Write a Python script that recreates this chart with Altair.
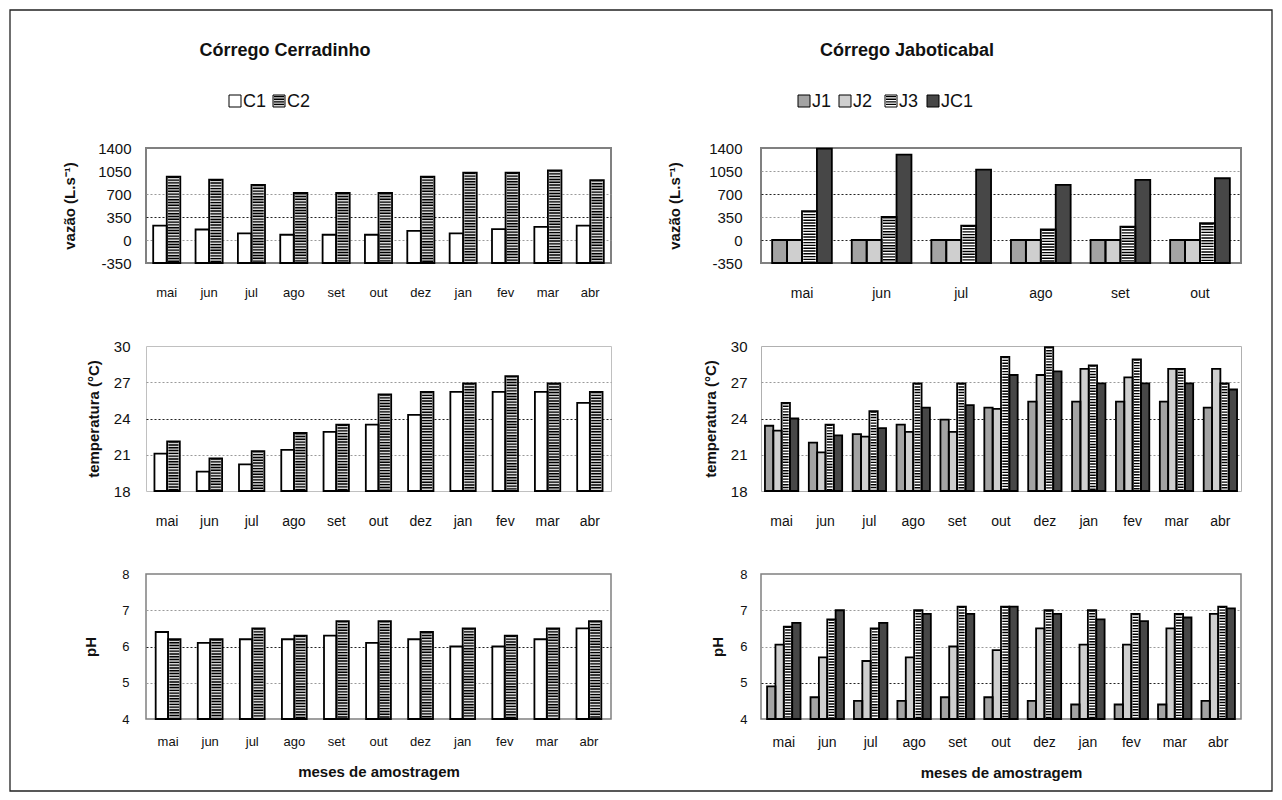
import altair as alt
import pandas as pd

FONT = "Liberation Sans"

# ---------------- data ----------------
months_c = ["mai", "jun", "jul", "ago", "set", "out", "dez", "jan", "fev", "mar", "abr"]
months_jq = ["mai", "jun", "jul", "ago", "set", "out"]
names_c = ["C1", "C2"]
names_j = ["J1", "J2", "J3", "JC1"]

c1_vazao = [220, 160, 100, 80, 80, 80, 140, 100, 165, 200, 220]
c2_vazao = [965, 920, 840, 715, 715, 715, 965, 1025, 1025, 1060, 910]
j1_vazao = [0, 0, 0, 0, 0, 0]
j2_vazao = [0, 0, 0, 0, 0, 0]
j3_vazao = [440, 350, 220, 160, 205, 255]
jc1_vazao = [1390, 1300, 1070, 840, 915, 940]

c1_temp = [21.1, 19.6, 20.2, 21.4, 22.9, 23.5, 24.3, 26.2, 26.2, 26.2, 25.3]
c2_temp = [22.1, 20.7, 21.3, 22.8, 23.5, 26.0, 26.2, 26.9, 27.5, 26.9, 26.2]
j1_temp = [23.4, 22.0, 22.7, 23.5, 23.9, 24.9, 25.4, 25.4, 25.4, 25.4, 24.9]
j2_temp = [23.0, 21.2, 22.5, 22.9, 22.9, 24.8, 27.6, 28.1, 27.4, 28.1, 28.1]
j3_temp = [25.3, 23.5, 24.6, 26.9, 26.9, 29.1, 29.9, 28.4, 28.9, 28.1, 26.9]
jc1_temp = [24.0, 22.6, 23.2, 24.9, 25.1, 27.6, 27.9, 26.9, 26.9, 26.9, 26.4]

c1_ph = [6.4, 6.1, 6.2, 6.2, 6.3, 6.1, 6.2, 6.0, 6.0, 6.2, 6.5]
c2_ph = [6.2, 6.2, 6.5, 6.3, 6.7, 6.7, 6.4, 6.5, 6.3, 6.5, 6.7]
j1_ph = [4.9, 4.6, 4.5, 4.5, 4.6, 4.6, 4.5, 4.4, 4.4, 4.4, 4.5]
j2_ph = [6.05, 5.7, 5.6, 5.7, 6.0, 5.9, 6.5, 6.05, 6.05, 6.5, 6.9]
j3_ph = [6.55, 6.75, 6.5, 7.0, 7.1, 7.1, 7.0, 7.0, 6.9, 6.9, 7.1]
jc1_ph = [6.65, 7.0, 6.65, 6.9, 6.9, 7.1, 6.9, 6.75, 6.7, 6.8, 7.05]

vazao_ticks = [-350, 0, 350, 700, 1050, 1400]
temp_ticks = [18, 21, 24, 27, 30]
ph_ticks = [4, 5, 6, 7, 8]

title_left = "Córrego Cerradinho"
title_right = "Córrego Jaboticabal"
xtitle = "meses de amostragem"

# ---------------- styles / layout ----------------
FILL = {"C1": "#ffffff", "C2": "#d4d4d4", "J1": "#a3a3a3", "J2": "#cfcfcf",
        "J3": "#ffffff", "JC1": "#474747"}
STRIPED = ["C2", "J3"]

WL, WR = 465, 480
H_TOP, H_MID, H_BOT = 115, 145, 145
COL_SPACING, ROW_SPACING = 150, 83
# origin of the top-left plot area on the page
OX, OY = 145, 147


def make_df(months, names, values):
    rows = []
    for name, vals in zip(names, values):
        for m, v in zip(months, vals):
            rows.append({"mes": m, "serie": name, "valor": v})
    return pd.DataFrame(rows)


def panel(months, names, values, ticks, width, height, pi, po, ytitle,
          ylab_size, ylab_pad, ytitle_pad, xlab_size, xlab_pad, dark, hidden,
          view_stroke, view_sw, xtitle=None, extra=()):
    df = make_df(months, names, values)
    n = len(months)
    k = len(names)
    step = width / (n - pi + 2 * po)
    sub = step * (1 - pi) / k
    domain = [ticks[0], ticks[-1]]
    xaxis = alt.Axis(title=xtitle, labelAngle=0, ticks=False, domain=False,
                     labelPadding=xlab_pad, labelFont=FONT, labelFontSize=xlab_size,
                     labelColor="#111", titleFont=FONT, titleFontSize=15,
                     titleFontWeight="bold", titlePadding=16, titleColor="#111")
    xenc = alt.X("mes:N", sort=months,
                 scale=alt.Scale(domain=months, paddingInner=pi, paddingOuter=po),
                 axis=xaxis)
    xoff = alt.XOffset("serie:N", sort=names,
                       scale=alt.Scale(domain=names, paddingInner=0, paddingOuter=0))
    grid_color = {"condition": {"test": f"indexof({dark}, datum.value) >= 0", "value": "#222"},
                  "value": "#9a9a9a"}
    grid_op = {"condition": {"test": f"indexof({hidden}, datum.value) >= 0", "value": 0},
               "value": 1}
    yaxis = alt.Axis(values=ticks, tickCount=len(ticks), title=ytitle, ticks=False,
                     domain=False, labelPadding=ylab_pad, labelFont=FONT,
                     labelFontSize=ylab_size, labelColor="#111", titleFont=FONT,
                     titleFontSize=15, titleFontWeight="bold", titlePadding=ytitle_pad,
                     titleColor="#111", labelOverlap=False, labelFlush=False,
                     labelExpr="'' + datum.value",
                     gridDash=[2, 2], gridColor=grid_color, gridOpacity=grid_op)
    yscale = alt.Scale(domain=domain, nice=False, zero=False)
    base = alt.Chart(df).encode(x=xenc, xOffset=xoff)
    fills = base.mark_bar(strokeWidth=0).encode(
        y=alt.Y("valor:Q", scale=yscale, axis=yaxis),
        y2=alt.datum(domain[0]),
        fill=alt.Fill("serie:N", scale=alt.Scale(domain=names,
                                                  range=[FILL[s] for s in names]),
                      legend=None),
    )
    stripes = base.transform_filter(
        alt.FieldOneOfPredicate(field="serie", oneOf=STRIPED)
    ).mark_rule(color="#000", strokeWidth=max(sub - 2.6, 1), strokeDash=[1.4, 1.4]).encode(
        y=alt.Y("valor:Q"), y2=alt.datum(domain[0])
    )
    outline = base.mark_bar(fillOpacity=0, stroke="#000", strokeWidth=1.8).encode(
        y=alt.Y("valor:Q"), y2=alt.datum(domain[0])
    )
    return alt.layer(fills, stripes, outline, *extra).properties(
        width=width, height=height,
        view=alt.ViewBackground(stroke=view_stroke, strokeWidth=view_sw),
    )


# ---------------- decoration: titles, legends, outer frame ----------------
dummy = pd.DataFrame({"d": [0]})
titles = [(title_left, 284), (title_right, 906)]
leg_items = [("C1", 234), ("C2", 278), ("J1", 803), ("J2", 844), ("J3", 890), ("JC1", 932)]
TITLE_Y = 50
LEG_Y = 100
SQ = 6
FRAME = (9, 9, 1271, 790)

decor = []
decor.append(alt.Chart(dummy).mark_rect(fillOpacity=0, stroke="#222", strokeWidth=1.3).encode(
    x=alt.value(FRAME[0] - OX), y=alt.value(FRAME[1] - OY),
    x2=alt.value(FRAME[2] - OX), y2=alt.value(FRAME[3] - OY)))
for t, cx in titles:
    decor.append(alt.Chart(dummy).mark_text(
        font=FONT, fontSize=18, fontWeight="bold", baseline="middle", align="center",
        color="#111").encode(x=alt.value(cx - OX), y=alt.value(TITLE_Y - OY),
                             text=alt.value(t)))
for name, cx in leg_items:
    x0 = cx - OX
    y0 = LEG_Y - OY
    decor.append(alt.Chart(dummy).mark_rect(fill=FILL[name], strokeWidth=0).encode(
        x=alt.value(x0 - SQ), x2=alt.value(x0 + SQ), y=alt.value(y0 - SQ), y2=alt.value(y0 + SQ)))
    if name in STRIPED:
        decor.append(alt.Chart(dummy).mark_rule(color="#000", strokeWidth=2 * SQ - 2,
                                                strokeDash=[1.3, 1.3]).encode(
            x=alt.value(x0), y=alt.value(y0 - SQ + 1), y2=alt.value(y0 + SQ - 1)))
    decor.append(alt.Chart(dummy).mark_rect(fillOpacity=0, stroke="#000", strokeWidth=1).encode(
        x=alt.value(x0 - SQ), x2=alt.value(x0 + SQ), y=alt.value(y0 - SQ), y2=alt.value(y0 + SQ)))
    decor.append(alt.Chart(dummy).mark_text(
        font=FONT, fontSize=18, baseline="middle", align="left", color="#111").encode(
        x=alt.value(x0 + SQ + 2), y=alt.value(y0 + 1), text=alt.value(name)))

# ---------------- panels ----------------
p_tl = panel(months_c, names_c, [c1_vazao, c2_vazao], vazao_ticks, WL, H_TOP, 0.36, 0.17,
             "vazão (L.s⁻¹)", 15, 15, 20, 13, 23, [350], [-350, 1050, 1400], "#808080", 2,
             extra=decor)
p_tr = panel(months_jq, names_j, [j1_vazao, j2_vazao, j3_vazao, jc1_vazao], vazao_ticks,
             WR, H_TOP, 0.25, 0.14, "vazão (L.s⁻¹)", 15, 19, 26, 14, 23, [0, 700],
             [-350, 1400], "#808080", 2)
p_ml = panel(months_c, names_c, [c1_temp, c2_temp], temp_ticks, WL, H_MID, 0.4, 0.2,
             "temperatura (°C)", 15, 16, 12, 14, 23, [24], [18, 30], "#c0c0c0", 1)
p_mr = panel(months_c, names_j, [j1_temp, j2_temp, j3_temp, jc1_temp], temp_ticks, WR, H_MID,
             0.24, 0.09, "temperatura (°C)", 15, 14, 12, 14, 23, [24], [18, 30], "#b0b0b0", 1)
p_bl = panel(months_c, names_c, [c1_ph, c2_ph], ph_ticks, WL, H_BOT, 0.41, 0.23,
             "pH", 13, 17, 23, 13, 16, [6], [4, 8], "#808080", 1.5, xtitle=xtitle)
p_br = panel(months_c, names_j, [j1_ph, j2_ph, j3_ph, jc1_ph], ph_ticks, WR, H_BOT, 0.23, 0.14,
             "pH", 13, 14, 14, 14, 16, [5], [4, 8], "#808080", 1.5, xtitle=xtitle)

chart = alt.concat(p_tl, p_tr, p_ml, p_mr, p_bl, p_br, columns=2, align="each",
                   bounds="flush",
                   spacing={"row": ROW_SPACING, "column": COL_SPACING}).resolve_scale(
    x="independent", y="independent", xOffset="independent", fill="independent"
).properties(padding=0).configure(font=FONT)

chart.save("out.html", embed_options={"renderer": "svg", "actions": False})
